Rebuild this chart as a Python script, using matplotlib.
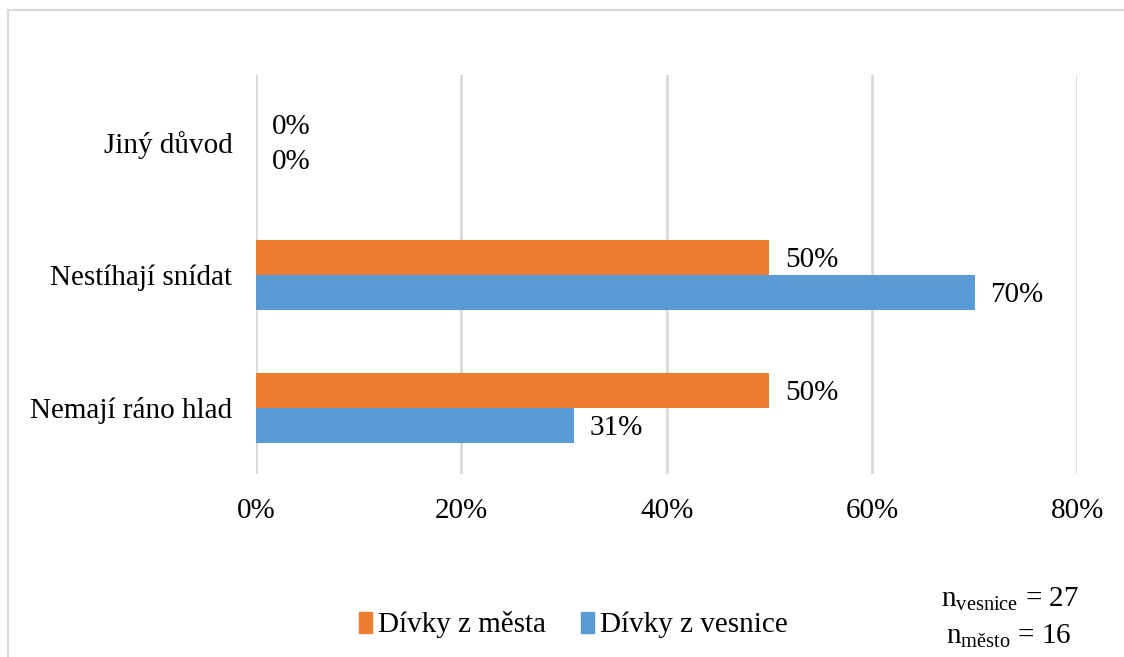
import matplotlib.pyplot as plt
import numpy as np
from matplotlib.patches import Patch
from matplotlib.lines import Line2D

categories = ["Nemají ráno hlad", "Nestíhají snídat", "Jiný důvod"]
mesto = [50, 50, 0]
vesnice = [31, 70, 0]
xticks = [0, 20, 40, 60, 80]

plt.rcParams['font.family'] = ['Liberation Serif', 'DejaVu Serif']
plt.rcParams['font.size'] = 21

c_mesto = "#ED7D31"
c_vesnice = "#5B9BD5"
grid_c = "#D9D9D9"

fig = plt.figure(figsize=(11.24, 6.57), dpi=100)
ax = fig.add_axes([0.2278, 0.2785, 0.7308, 0.6073])

y = np.arange(len(categories))
h = 0.263
b1 = ax.barh(y + h / 2, mesto, height=h, color=c_mesto, label="Dívky z města", zorder=3)
b2 = ax.barh(y - h / 2, vesnice, height=h, color=c_vesnice, label="Dívky z vesnice", zorder=3)

for bars, vals in ((b1, mesto), (b2, vesnice)):
    for bar, v in zip(bars, vals):
        ax.text(v + 1.5, bar.get_y() + bar.get_height() / 2, f"{v}%",
                va='center_baseline', ha='left', fontsize=21)

ax.set_xlim(0, 80)
ax.set_ylim(-0.5, 2.5)
ax.set_xticks(xticks)
ax.set_xticklabels([f"{t}%" for t in xticks])
ax.set_yticks(y)
ax.set_yticklabels(categories)
ax.tick_params(length=0)
ax.tick_params(axis='x', pad=17)
ax.tick_params(axis='y', pad=17)
ax.grid(axis='x', color=grid_c, linewidth=2, zorder=0)
for s in ax.spines.values():
    s.set_visible(False)

# outer frame (only left and top visible within image)
fig.add_artist(Line2D([8 / 1124, 8 / 1124], [0, 1 - 10 / 657], transform=fig.transFigure,
                      color=grid_c, linewidth=1.5))
fig.add_artist(Line2D([8 / 1124, 1], [1 - 10 / 657, 1 - 10 / 657], transform=fig.transFigure,
                      color=grid_c, linewidth=1.5))

handles = [Patch(color=c_mesto, label="Dívky z města"),
           Patch(color=c_vesnice, label="Dívky z vesnice")]
fig.legend(handles=handles, loc='center', bbox_to_anchor=(0.510, 1 - 625 / 657),
           ncol=2, frameon=False, fontsize=21, handlelength=0.45, handleheight=0.7,
           handletextpad=0.2, columnspacing=1.2)

fig.text(0.8985, 1 - 599 / 657, r"n$_{\mathregular{vesnice}}$ = 27", ha='center', va='center', fontsize=21)
fig.text(0.8975, 1 - 636 / 657, r"n$_{\mathregular{město}}$ = 16", ha='center', va='center', fontsize=21)

fig.savefig("out.png", dpi=100)
